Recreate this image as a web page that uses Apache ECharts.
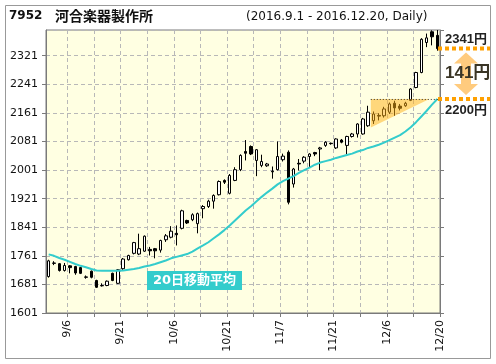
<!DOCTYPE html>
<html><head><meta charset="utf-8">
<script src="https://cdn.jsdelivr.net/npm/echarts@6/dist/echarts.min.js"></script>
<style>html,body{margin:0;padding:0;background:#fff}#c{width:496px;height:364px}</style>
</head><body><div id="c"></div>
<script>
const dates = ['9/1','9/2','9/5','9/6','9/7','9/8','9/9','9/12','9/13','9/14','9/15','9/16','9/20','9/21','9/23','9/26','9/27','9/28','9/29','9/30',
'10/3','10/4','10/5','10/6','10/7','10/11','10/12','10/13','10/14','10/17','10/18','10/19','10/20','10/21','10/24','10/25','10/26','10/27','10/28','10/31',
'11/1','11/2','11/4','11/7','11/8','11/9','11/10','11/11','11/14','11/15','11/16','11/17','11/18','11/21','11/22','11/24','11/25','11/28','11/29','11/30',
'12/1','12/2','12/5','12/6','12/7','12/8','12/9','12/12','12/13','12/14','12/15','12/16','12/19','12/20'];
const opens = [1703,1741,1739,1720,1733,1731,1728,1702,1718,1692,1678,1678,1712,1684,1725,1750,1768,1766,1774,1779,
1781,1777,1806,1813,1824,1838,1860,1862,1851,1893,1899,1914,1932,1972,1936,1972,2002,2053,2067,2028,
2014,2013,1998,2002,2030,2051,1962,2020,2026,2039,2050,2060,2070,2076,2063,2085,2070,2095,2102,2102,
2125,2139,2154,2153,2163,2188,2180,2181,2196,2232,2274,2358,2388,2378];
const closes = [1747,1740,1720,1734,1728,1713,1712,1701,1701,1673,1677,1690,1692,1722,1752,1762,1798,1781,1816,1775,
1775,1804,1817,1830,1820,1887,1853,1876,1879,1899,1914,1930,1969,1967,1986,2002,2042,2048,2046,2058,
2025,2018,1996,2039,2040,1911,2004,2018,2037,2046,2046,2063,2079,2075,2088,2079,2095,2102,2130,2144,
2163,2158,2152,2172,2186,2175,2174,2188,2228,2274,2367,2371,2374,2341];
const lows = [1700,1735,1717,1717,1712,1708,1710,1697,1698,1671,1675,1676,1690,1682,1722,1748,1765,1763,1772,1762,
1754,1770,1800,1810,1790,1835,1850,1858,1824,1866,1895,1893,1930,1962,1933,1970,1998,2028,2043,1984,
2009,2010,1977,2000,2025,1905,1952,2000,2020,2009,2040,2001,2066,2072,2060,2076,2046,2092,2092,2100,
2122,2130,2140,2148,2158,2153,2168,2178,2194,2230,2272,2345,2350,2335];
const highs = [1750,1746,1741,1741,1735,1733,1730,1706,1720,1694,1684,1692,1714,1724,1755,1764,1800,1823,1818,1786,
1783,1806,1822,1844,1846,1890,1862,1880,1882,1903,1918,1933,1972,1975,1990,2009,2045,2085,2070,2060,
2044,2021,2011,2081,2047,2056,2007,2032,2040,2048,2052,2066,2082,2078,2090,2088,2097,2105,2132,2147,
2181,2165,2160,2178,2190,2195,2186,2192,2230,2276,2370,2383,2392,2393];
const ma20 = [1765,1761,1755,1750,1744,1738,1733,1729,1724,1720,1719,1719,1719,1719,1720,1722,1724,1727,1731,1734,
1738,1743,1748,1754,1758,1762,1766,1773,1782,1790,1799,1810,1821,1833,1846,1860,1874,1888,1900,1913,
1926,1938,1949,1961,1970,1977,1984,1993,2001,2008,2016,2022,2026,2030,2035,2039,2043,2047,2053,2057,
2063,2067,2072,2078,2085,2092,2099,2109,2121,2135,2151,2167,2184,2200];
const labelDates = ['9/6','9/21','10/6','10/21','11/7','11/21','12/6','12/20'];
const yMin = 1601, yMax = 2393, yInterval = 80;
const stockCode = '7952', stockName = '河合楽器製作所';
const periodText = '(2016.9.1 - 2016.12.20, Daily)';
const maName = '20日移動平均';

const boundaries = [''].concat(dates);
const candles = dates.map((d, i) => [opens[i], closes[i], lows[i], highs[i]]);
const AX = '#7a7a7a', GRID = '#b8b8b8', FONT = 'DejaVu Sans';

const chart = echarts.init(document.getElementById('c'), null, {renderer: 'canvas'});
chart.setOption({
  animation: false,
  backgroundColor: '#fff',
  grid: {left: 46, right: 56, top: 30, bottom: 51, show: true, backgroundColor: '#ffffe2', borderColor: AX, borderWidth: 1},
  xAxis: [
    {type: 'category', data: dates, boundaryGap: true, show: false},
    {type: 'category', data: boundaries, boundaryGap: false, position: 'bottom',
      axisLine: {show: true, lineStyle: {color: AX}},
      axisTick: {show: true, interval: (i) => i % 5 === 4, length: 4, lineStyle: {color: AX}},
      axisLabel: {interval: (i, v) => labelDates.includes(v), rotate: 90, margin: 7, fontSize: 11, fontFamily: FONT, color: '#111'},
      splitLine: {show: true, interval: (i) => i % 5 === 4, lineStyle: {color: GRID, type: [4, 3]}}}
  ],
  yAxis: [
    {type: 'value', min: yMin, max: yMax, interval: yInterval,
      axisLine: {show: true, lineStyle: {color: AX}},
      axisTick: {show: true, length: 4, lineStyle: {color: AX}},
      axisLabel: {fontSize: 11, fontFamily: FONT, color: '#111', margin: 8, showMaxLabel: false, formatter: (v) => String(v)},
      splitLine: {show: true, lineStyle: {color: GRID, type: [4, 3]}}},
    {type: 'value', position: 'right', min: yMin, max: yMax, interval: yInterval,
      axisLine: {show: true, lineStyle: {color: AX}},
      axisTick: {show: true, length: 4, lineStyle: {color: AX}},
      axisLabel: {show: false}, splitLine: {show: false}}
  ],
  series: [
    {type: 'candlestick', xAxisIndex: 0, yAxisIndex: 0, data: candles, barWidth: 3, z: 2,
      itemStyle: {color: '#fff', color0: '#000', borderColor: '#000', borderColor0: '#000', borderWidth: 1}},
    {type: 'line', xAxisIndex: 0, yAxisIndex: 0, data: ma20, symbol: 'none', z: 3,
      lineStyle: {color: '#33cccc', width: 2}}
  ]
});

const px = i => chart.convertToPixel({xAxisIndex: 0}, dates[i]);
const py = v => chart.convertToPixel({yAxisIndex: 0}, v);
const n = dates.length;
const bw = px(1) - px(0);
const maLast = ma20[n - 1], closeLast = closes[n - 1], diff = closeLast - maLast;
const yMA = py(maLast), yC = py(closeLast);
const xL = px(60) + bw / 2, xR = px(71) + bw / 2, plotRight = px(n - 1) + bw / 2;
const ax = 466, hw = 12, hh = 11, sw = 5;
const aTop = yC + 4, aBot = yMA - 4;
const LAB = 'Liberation Sans, Noto Sans CJK JP';

chart.setOption({graphic: [
  {type: 'rect', silent: true, shape: {x: 5.5, y: 5.5, width: 485, height: 353}, style: {fill: null, stroke: '#999', lineWidth: 1}},
  {type: 'text', silent: true, style: {x: 9, y: 16, text: stockCode, fontSize: 12, fontWeight: 'bold', fontFamily: FONT, fill: '#111', verticalAlign: 'middle'}},
  {type: 'text', silent: true, style: {x: 55, y: 16, text: stockName, fontSize: 14, fontWeight: 'bold', fontFamily: 'Noto Sans CJK JP', fill: '#111', verticalAlign: 'middle'}},
  {type: 'text', silent: true, style: {x: 246, y: 17, text: periodText, fontSize: 12, fontFamily: FONT, fill: '#111', verticalAlign: 'middle'}},
  {type: 'rect', silent: true, z: 20, shape: {x: 147, y: 271, width: 95, height: 19}, style: {fill: '#33cccc'}},
  {type: 'text', silent: true, z: 21, style: {x: 194.5, y: 281, text: maName, fontSize: 13, fontWeight: 'bold', fontFamily: 'DejaVu Sans, Noto Sans CJK JP', fill: '#fff', align: 'center', verticalAlign: 'middle'}},
  {type: 'polygon', silent: true, z: 20, shape: {points: [[xL, yMA], [xR, yMA], [xL, py(2120)]]}, style: {fill: 'rgba(255,175,20,0.5)'}},
  {type: 'line', silent: true, z: 21, shape: {x1: xL, y1: yMA + 0.5, x2: plotRight, y2: yMA + 0.5}, style: {stroke: '#333', lineWidth: 1, lineDash: [1, 2]}},
  {type: 'line', silent: true, z: 21, shape: {x1: plotRight - 2, y1: yC, x2: 490, y2: yC}, style: {stroke: '#ffa000', lineWidth: 4, lineDash: [4, 3]}},
  {type: 'line', silent: true, z: 21, shape: {x1: plotRight - 2, y1: yMA, x2: 490, y2: yMA}, style: {stroke: '#ffa000', lineWidth: 4, lineDash: [4, 3]}},
  {type: 'polygon', silent: true, z: 20, shape: {points: [
    [ax, aTop], [ax + hw, aTop + hh], [ax + sw, aTop + hh], [ax + sw, aBot - hh], [ax + hw, aBot - hh],
    [ax, aBot], [ax - hw, aBot - hh], [ax - sw, aBot - hh], [ax - sw, aTop + hh], [ax - hw, aTop + hh]]},
    style: {fill: 'rgba(255,160,20,0.55)'}},
  {type: 'text', silent: true, z: 22, style: {x: 445, y: yC - 9, text: closeLast + '円', fontSize: 13, fontWeight: 'bold', fontFamily: LAB, fill: '#222', verticalAlign: 'middle'}},
  {type: 'text', silent: true, z: 22, style: {x: 445, y: (yC + yMA) / 2, text: diff + '円', fontSize: 17, fontWeight: 'bold', fontFamily: LAB, fill: '#3a3526', verticalAlign: 'middle'}},
  {type: 'text', silent: true, z: 22, style: {x: 445, y: yMA + 11, text: maLast + '円', fontSize: 13, fontWeight: 'bold', fontFamily: LAB, fill: '#222', verticalAlign: 'middle'}}
]});
</script>
</body></html>
